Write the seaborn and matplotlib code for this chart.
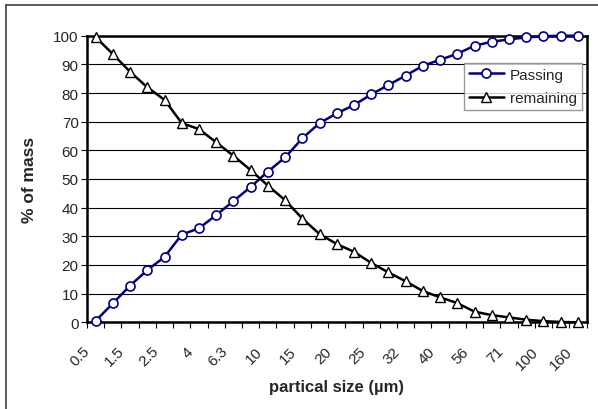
import numpy as np
import pandas as pd
import matplotlib
matplotlib.use("Agg")
import matplotlib.pyplot as plt
import seaborn as sns
from matplotlib.lines import Line2D

# particle size classes (um), only every other one is labelled on the axis
sizes = ["0.5", "1", "1.5", "2", "2.5", "3", "4", "5", "6.3", "8", "10", "12",
         "15", "18", "20", "23", "25", "28", "32", "36", "40", "45", "56", "63",
         "71", "80", "100", "125", "160"]
passing = [0.5, 6.6, 12.8, 18.2, 22.8, 30.6, 32.8, 37.4, 42.3, 47.2, 52.6, 57.5,
           64.2, 69.5, 72.9, 75.8, 79.5, 82.8, 86.1, 89.5, 91.6, 93.7, 96.5, 97.9,
           98.7, 99.4, 99.8, 100.0, 100.0]
remaining = [99.5, 93.6, 87.4, 82.0, 77.6, 69.5, 67.4, 62.8, 58.1, 53.1, 47.7, 42.6,
             36.2, 30.8, 27.3, 24.6, 20.7, 17.4, 14.3, 10.9, 8.7, 6.7, 3.7, 2.5,
             1.7, 0.9, 0.4, 0.1, 0.0]

df = pd.DataFrame({"size": sizes, "Passing": passing, "remaining": remaining})
df["pos"] = np.arange(len(df))

sns.set_style("white")
plt.rcParams["font.family"] = ["Liberation Sans", "DejaVu Sans"]

fig = plt.figure(figsize=(5.98, 4.10), dpi=100)
ax = fig.add_axes([0.1455, 0.2115, 0.8353, 0.699])

sns.lineplot(data=df, x="pos", y="Passing", ax=ax, color="#000080", lw=1.8,
             marker="o", markersize=6.5, markerfacecolor="white",
             markeredgecolor="#000080", markeredgewidth=1.2, label="Passing",
             clip_on=False, zorder=4)
sns.lineplot(data=df, x="pos", y="remaining", ax=ax, color="black", lw=1.8,
             marker="^", markersize=7.5, markerfacecolor="white",
             markeredgecolor="black", markeredgewidth=1.0, label="remaining",
             clip_on=False, zorder=5)

ax.set_xlim(-0.5, len(df) - 0.5)
ax.set_ylim(0, 100)
ax.set_yticks(range(0, 101, 10))
ax.yaxis.grid(True, color="black", lw=0.8)
ax.xaxis.grid(False)

# labels sit a little left of their point (Excel style rotated labels)
ax.set_xticks(df["pos"][::2] - 0.45)
ax.set_xticklabels(df["size"][::2], rotation=45, ha="right", va="center",
                   rotation_mode="anchor", fontsize=11)
ax.set_xticks(np.arange(-0.5, len(df)), minor=True)
ax.tick_params(axis="x", which="major", length=0, pad=19)
ax.tick_params(axis="x", which="minor", length=4, width=0.8, color="black",
               direction="out", bottom=True)
ax.tick_params(axis="y", length=4, width=0.8, color="black", direction="out",
               left=True, labelsize=11, pad=2)
for s in ax.spines.values():
    s.set_color("black")
    s.set_linewidth(1.8)

ax.set_xlabel("partical size (\u00b5m)", fontsize=12, fontweight="bold", labelpad=5)
ax.set_ylabel("% of mass", fontsize=12.5, fontweight="bold", labelpad=12)

leg = ax.legend(loc="upper right", bbox_to_anchor=(0.99, 0.905), fontsize=11,
                frameon=True, fancybox=False, borderpad=0.3, labelspacing=0.65,
                handlelength=2.3, handletextpad=0.4, borderaxespad=0)
leg.get_frame().set_edgecolor("#808080")
leg.get_frame().set_linewidth(1.0)

# chart area border (top and left edges visible)
fig.add_artist(Line2D([6 / 598, 1], [1 - 6 / 410, 1 - 6 / 410], color="#404040", lw=1.2))
fig.add_artist(Line2D([6 / 598, 6 / 598], [0, 1 - 6 / 410], color="#404040", lw=1.2))

fig.savefig("out.png", dpi=100)
